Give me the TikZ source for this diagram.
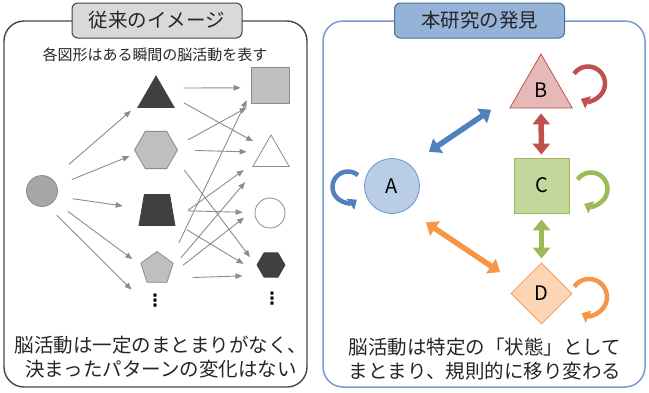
\documentclass[tikz,border=0pt]{standalone}
\usepackage{fontspec}
\setmainfont{Noto Sans CJK JP}
\newfontfamily\symfont{DejaVu Sans}
\usetikzlibrary{shapes.geometric, arrows.meta, calc}

\definecolor{txt}{RGB}{38,38,38}
\definecolor{gline}{RGB}{140,140,140}
\definecolor{gdark}{RGB}{64,64,64}
\definecolor{gmid}{RGB}{166,166,166}
\definecolor{glight}{RGB}{191,191,191}
\definecolor{ghead}{RGB}{217,217,217}
\definecolor{gframe}{RGB}{70,70,70}
\definecolor{frameblue}{RGB}{115,157,210}
\definecolor{headblue}{RGB}{149,179,215}
\definecolor{headline}{RGB}{65,113,156}
\definecolor{ablue}{RGB}{79,129,189}
\definecolor{afill}{RGB}{185,205,229}
\definecolor{aline}{RGB}{110,150,205}
\definecolor{bred}{RGB}{192,80,77}
\definecolor{bfill}{RGB}{230,185,184}
\definecolor{cgreen}{RGB}{155,187,89}
\definecolor{cfill}{RGB}{195,214,155}
\definecolor{dorange}{RGB}{247,150,70}
\definecolor{dfill}{RGB}{252,213,181}

\tikzstyle{headbox}   = [rectangle, rounded corners=6pt, line width=1pt,
                         minimum width=170pt, minimum height=35pt,
                         font=\fontsize{19.5}{19.5}\selectfont, text=txt]
\tikzstyle{figshape}  = [inner sep=0pt, line width=0.8pt]
\tikzstyle{statenode} = [inner sep=0pt, line width=0.8pt, text=black,
                         font=\fontsize{20}{20}\selectfont]
\tikzstyle{fanarrow}  = [draw=gline, line width=0.9pt,
                         -{Triangle[length=7pt,width=5.5pt]},
                         shorten <=17pt, shorten >=14pt]
\tikzstyle{duoarrow}  = [line width=5.5pt,
                         {Triangle[length=11pt,width=17pt]}-{Triangle[length=11pt,width=17pt]}]
\tikzstyle{looparrow} = [line width=4.5pt, -{Triangle[length=8pt,width=13pt]}]
\tikzstyle{note}      = [align=center, text=txt,
                         font=\fontsize{19.5}{24}\selectfont]
\tikzstyle{moredots}  = [font=\symfont\bfseries\fontsize{17}{17}\selectfont]

\begin{document}
\begin{tikzpicture}[x=1pt, y=-1pt]
\useasboundingbox (0,0) rectangle (649,392);

% left panel: conventional view
\draw[draw=gframe, line width=1.4pt, rounded corners=20pt] (4,21) rectangle (307,387);
\node (oldhead) [headbox, fill=ghead, draw=gdark] at (157,20.5) {従来のイメージ};
\node (caption) [text=txt, font=\fontsize{15}{15}\selectfont] at (155,55) {各図形はある瞬間の脳活動を表す};

\node (src) [figshape, circle, minimum size=31pt, fill=gmid, draw=gline] at (42,191) {};
\node (tri1) [figshape, regular polygon, regular polygon sides=3, minimum size=42pt, fill=gdark, draw=gdark] at (156,97) {};
\node (hex1) [figshape, regular polygon, regular polygon sides=6, minimum size=43pt, fill=glight, draw=gline] at (156,150) {};
\node (trap) [figshape, inner sep=2pt, trapezium, trapezium angle=78, trapezium stretches=true,
              minimum width=36pt, minimum height=31pt, fill=gdark, draw=gdark] at (157,210) {};
\node (pent) [figshape, regular polygon, regular polygon sides=5, minimum size=34pt, fill=glight, draw=gline] at (157,268.5) {};
\node (dots1) [moredots] at (155,301) {⋮};

\node (sq) [figshape, rectangle, minimum width=38pt, minimum height=36pt, fill=glight, draw=gline] at (270,85) {};
\node (tri2) [figshape, regular polygon, regular polygon sides=3, minimum size=42pt, fill=white, draw=gline] at (271,156) {};
\node (circ2) [figshape, circle, minimum size=30pt, fill=white, draw=gline] at (270,213) {};
\node (hex2) [figshape, regular polygon, regular polygon sides=6, minimum size=28pt, fill=gdark, draw=gdark] at (271,265) {};
\node (dots2) [moredots] at (272,299) {⋮};

\draw [fanarrow, shorten <=22pt, shorten >=12pt] (src.50) -- (tri1.200);
\draw [fanarrow, shorten <=16pt, shorten >=7pt] (src.20) -- (hex1.190);
\draw [fanarrow, shorten <=16pt, shorten >=19pt] (src.-20) -- (trap.175);
\draw [fanarrow, shorten <=17pt, shorten >=11pt] (src.-40) -- (pent.170);
\draw [fanarrow, shorten <=13pt, shorten >=16pt] (src.-70) -- (dots1.west);

\draw [fanarrow, shorten <=20pt, shorten >=10pt] (tri1.50) -- (sq.188);
\draw [fanarrow, shorten <=20pt, shorten >=12pt] (tri1.20) -- (tri2.130);
\draw [fanarrow, shorten <=14pt, shorten >=9pt] (hex1.10) -- (sq.230);
\draw [fanarrow] (hex1.0) -- (tri2.160);
\draw [fanarrow] (hex1.-20) -- (hex2.195);
\draw [fanarrow] (trap.-30) -- (tri2.200);
\draw [fanarrow, shorten <=15pt, shorten >=12pt] (trap) -- (circ2);
\draw [fanarrow, shorten <=14pt, shorten >=22pt] (trap.-35) -- (hex2.230);
\draw [fanarrow, shorten <=20pt, shorten >=9pt] (pent.30) -- (sq.200);
\draw [fanarrow, shorten <=14pt, shorten >=20pt] (pent.0) -- (tri2.220);
\draw [fanarrow] (pent.-30) -- (circ2.165);
\draw [fanarrow, shorten <=24pt, shorten >=20pt] (pent.-40) -- (hex2.230);

\node (oldnote) [note] at (161,357) {脳活動は一定のまとまりがなく、\\決まったパターンの変化はない};

% right panel: finding of this study
\draw[draw=frameblue, line width=1.5pt, rounded corners=20pt] (323,21) rectangle (645,387);
\node (newhead) [headbox, fill=headblue, draw=headline] at (479.5,20.5) {本研究の発見};

\node (A) [statenode, circle, minimum size=55pt, fill=afill, draw=aline] at (392,186) {A};
\node (B) [statenode, regular polygon, regular polygon sides=3, minimum size=72pt, fill=bfill, draw=bred] at (541,90) {B};
\node (C) [statenode, rectangle, minimum size=55pt, fill=cfill, draw=cgreen] at (541.5,185.5) {C};
\node (D) [statenode, diamond, minimum size=61pt, fill=dfill, draw=dorange] at (541.5,293.5) {D};

\draw [duoarrow, ablue, shorten <=23pt, shorten >=34pt] (A.50) -- (B.182);
\draw [duoarrow, bred, shorten <=5pt, shorten >=3pt] (B.south) -- (C.north);
\draw [duoarrow, cgreen, shorten <=6pt, shorten >=4pt] (C.south) -- (D.north);
\draw [duoarrow, dorange, shorten <=23pt, shorten >=23pt] (A.-58) -- (D.159);

% self loops
\draw [looparrow, ablue] ($(A)+(-44,1)$) ++(-50:15.5) arc[start angle=-50, end angle=-305, radius=15.5];
\draw [looparrow, bred] ($(B)+(47,-6.5)$) ++(-145:17) arc[start angle=-145, end angle=115, radius=17];
\draw [looparrow, cgreen] ($(C)+(49.5,3.5)$) ++(-145:16.5) arc[start angle=-145, end angle=115, radius=16.5];
\draw [looparrow, dorange] ($(D)+(47.5,3.5)$) ++(-145:18) arc[start angle=-145, end angle=115, radius=18];

\node (newnote) [note] at (485,359.5) {脳活動は特定の「状態」として\\まとまり、規則的に移り変わる};
\end{tikzpicture}
\end{document}
